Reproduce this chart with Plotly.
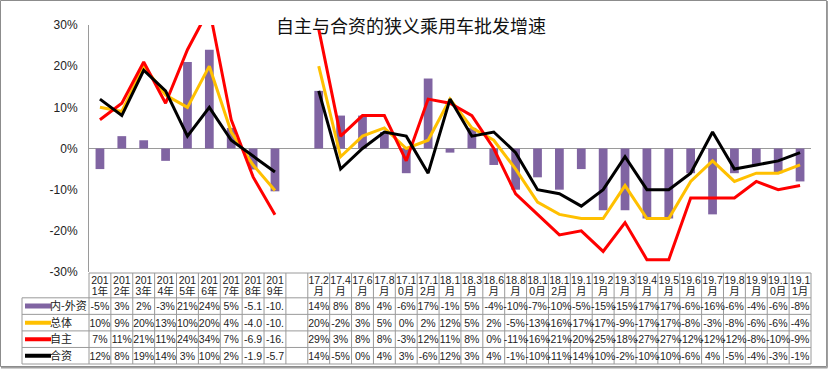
import plotly.graph_objects as go

# ---------------- data ----------------
categories = ["2011年", "2012年", "2013年", "2014年", "2015年", "2016年", "2017年", "2018年", "2019年", "",
              "17.2月", "17.4月", "17.6月", "17.8月", "17.10月", "17.12月", "18.1月", "18.3月", "18.6月",
              "18.8月", "18.10月", "18.12月", "19.1月", "19.2月", "19.3月", "19.4月", "19.5月", "19.6月",
              "19.7月", "19.8月", "19.9月", "19.10月", "19.11月"]

diff_name = "内-外资"
total_name = "总体"
domestic_name = "自主"
jv_name = "合资"

diff_vals = [-5, 3, 2, -3, 21, 24, 5, -5.1, -10.4, None,
             14, 8, 8, 4, -6, 17, -1, 5, -4, -10, -7,
             -10, -5, -15, -15, -17, -17, -6, -16, -6, -4, -6, -8]
total_vals = [10, 9, 20, 13, 10, 20, 4, -4.0, -10.2, None,
              20, -2, 3, 5, 0, 2, 12, 5, 2, -5, -13,
              -16, -17, -17, -9, -17, -17, -8, -3, -8, -6, -6, -4]
domestic_vals = [7, 11, 21, 11, 24, 34, 7, -6.9, -16.1, None,
                 29, 3, 8, 8, -3, 12, 11, 8, 0, -11, -16,
                 -21, -20, -25, -18, -27, -27, -12, -12, -12, -8, -10, -9]
jv_vals = [12, 8, 19, 14, 3, 10, 2, -1.9, -5.7, None,
           14, -5, 0, 4, 3, -6, 12, 3, 4, -1, -10,
           -11, -14, -10, -2, -10, -10, -6, 4, -5, -4, -3, -1]

decimal_cols = ["2018年", "2019年"]
y_ticks = [-30, -20, -10, 0, 10, 20, 30]
title_text = "自主与合资的狭义乘用车批发增速"

# ---------------- styles ----------------
C_DIFF = "#8064A2"
C_TOTAL = "#FFC000"
C_DOM = "#FF0000"
C_JV = "#000000"
GRID = "#9A9A9A"
TXT = "#222222"
NUM_FONT = "Liberation Sans, Arial, Noto Sans CJK SC"
CJK_FONT = "Noto Sans CJK SC, Liberation Sans"

W_PX, H_PX = 828, 369
PL, PR, PT, PB = 89, 811, 25, 272          # chart plot area (pixels)
TT, TB = 273, 364                            # table top / bottom (pixels)
LEG_W_PX = 67                                # legend column width (pixels)
TEXT_DY_PX = 1.5                             # visual centring nudge for table text

n = len(categories)
xs = list(range(n))
ppu = (PR - PL) / n                          # pixels per category

fig = go.Figure()
fig.add_trace(go.Bar(x=xs, y=diff_vals, name=diff_name, marker=dict(color=C_DIFF, line=dict(width=0)),
                     width=0.4, hoverinfo="skip"))
fig.add_trace(go.Scatter(x=xs, y=total_vals, name=total_name, mode="lines",
                         line=dict(color=C_TOTAL, width=3), connectgaps=False))
fig.add_trace(go.Scatter(x=xs, y=domestic_vals, name=domestic_name, mode="lines",
                         line=dict(color=C_DOM, width=3), connectgaps=False))
fig.add_trace(go.Scatter(x=xs, y=jv_vals, name=jv_name, mode="lines",
                         line=dict(color=C_JV, width=3), connectgaps=False))

# ---------------- data table on its own axes (x: category index, y: row index) ----------------
HDR = 1.5                                    # header height in row units
n_rows = 4
y_bottom = HDR + n_rows
ypu = (TB - TT) / y_bottom                   # pixels per row unit
leg_w = LEG_W_PX / ppu
XL = -0.5 - leg_w
pad = 0.12
tdy = TEXT_DY_PX / ypu

x2_range = [XL - pad, n - 0.5 + pad]
x2_dom = [(PL + (x2_range[0] + 0.5) * ppu) / W_PX, (PL + (x2_range[1] + 0.5) * ppu) / W_PX]
y2_range = [y_bottom + pad, -pad]
y2_dom = [(H_PX - (TB + pad * ypu)) / H_PX, (H_PX - (TT - pad * ypu)) / H_PX]

gx, gy = [], []
gx += [-0.5, n - 0.5, None]
gy += [0, 0, None]
for r in range(n_rows + 1):
    yy = HDR + r
    gx += [XL, n - 0.5, None]
    gy += [yy, yy, None]
for k in range(n + 1):
    gx += [k - 0.5, k - 0.5, None]
    gy += [0, y_bottom, None]
gx += [XL, XL, None]
gy += [HDR, y_bottom, None]
fig.add_trace(go.Scatter(x=gx, y=gy, mode="lines", line=dict(color=GRID, width=1),
                         xaxis="x2", yaxis="y2", hoverinfo="skip", showlegend=False))


def wrap(c):
    if not c:
        return "", ""
    k = 3 if c.endswith("年") else 4
    return c[:k], c[k:]


top_lbl = [wrap(c)[0] for c in categories]
bot_lbl = [wrap(c)[1] for c in categories]
hdr_font = dict(family=NUM_FONT, size=10.5, color=TXT)
fig.add_trace(go.Scatter(x=xs, y=[(281.5 - TT) / ypu] * n, text=top_lbl, mode="text",
                         textposition="middle center", textfont=hdr_font,
                         xaxis="x2", yaxis="y2", hoverinfo="skip", showlegend=False))
fig.add_trace(go.Scatter(x=xs, y=[(292.5 - TT) / ypu] * n, text=bot_lbl, mode="text",
                         textposition="middle center", textfont=hdr_font,
                         xaxis="x2", yaxis="y2", hoverinfo="skip", showlegend=False))


def fmt(v, c):
    if v is None:
        return ""
    if c in decimal_cols:
        return f"{v:.1f}"[:4]
    return f"{v:.0f}%"


rows = [(diff_name, diff_vals, C_DIFF, 5), (total_name, total_vals, C_TOTAL, 4),
        (domestic_name, domestic_vals, C_DOM, 4), (jv_name, jv_vals, C_JV, 4)]
for r, (name, vals, col, lw) in enumerate(rows):
    yc = HDR + r + 0.5
    fig.add_trace(go.Scatter(x=[XL + 3 / ppu, XL + 29 / ppu], y=[yc, yc], mode="lines",
                             line=dict(color=col, width=lw), xaxis="x2", yaxis="y2",
                             hoverinfo="skip", showlegend=False))
    fig.add_trace(go.Scatter(x=[XL + 28 / ppu], y=[yc + tdy], text=[name], mode="text",
                             textposition="middle right",
                             textfont=dict(family=CJK_FONT, size=11, color=TXT),
                             xaxis="x2", yaxis="y2", hoverinfo="skip", showlegend=False))
    fig.add_trace(go.Scatter(x=xs, y=[yc + tdy] * n, text=[fmt(v, c) for v, c in zip(vals, categories)],
                             mode="text", textposition="middle center",
                             textfont=dict(family=NUM_FONT, size=10.5, color=TXT),
                             xaxis="x2", yaxis="y2", hoverinfo="skip", showlegend=False))

# outer frame
frame = dict(xref="paper", yref="paper", layer="above")
fig.add_shape(type="rect", x0=0.5 / W_PX, x1=826.5 / W_PX, y0=2.5 / H_PX, y1=1 - 0.5 / H_PX,
              line=dict(color="#8C8C8C", width=1), **frame)
fig.add_shape(type="line", x0=827.3 / W_PX, x1=827.3 / W_PX, y0=1.5 / H_PX, y1=1 - 1 / H_PX,
              line=dict(color="#A0A0A0", width=1.5), **frame)
fig.add_shape(type="line", x0=1 / W_PX, x1=827.5 / W_PX, y0=1.3 / H_PX, y1=1.3 / H_PX,
              line=dict(color="#A0A0A0", width=1.5), **frame)

fig.update_layout(
    template="none",
    width=W_PX, height=H_PX,
    margin=dict(l=0, r=0, t=0, b=0, pad=0, autoexpand=False),
    paper_bgcolor="white", plot_bgcolor="rgba(0,0,0,0)",
    showlegend=False, barmode="overlay",
    title=dict(text=title_text, x=411 / W_PX, xref="container", xanchor="center",
               y=1 - 27 / H_PX, yref="container", yanchor="middle", automargin=False,
               font=dict(family=CJK_FONT, size=18, color="#111")),
    xaxis=dict(domain=[PL / W_PX, PR / W_PX], range=[-0.5, n - 0.5], visible=False,
               fixedrange=True, automargin=False),
    yaxis=dict(domain=[(H_PX - PB) / H_PX, (H_PX - PT) / H_PX],
               range=[-30, 30], tickvals=y_ticks, ticktext=[f"{v}%" for v in y_ticks],
               showgrid=False, showline=True, linecolor=GRID, linewidth=1,
               zeroline=True, zerolinecolor=GRID, zerolinewidth=1,
               ticks="", ticklabelstandoff=8, fixedrange=True, automargin=False,
               tickfont=dict(family=NUM_FONT, size=12, color=TXT)),
    xaxis2=dict(domain=x2_dom, range=x2_range, visible=False, fixedrange=True, anchor="y2",
                automargin=False),
    yaxis2=dict(domain=y2_dom, range=y2_range, visible=False, fixedrange=True, anchor="x2",
                automargin=False),
)

fig.write_html("out.html", config={"displayModeBar": False},
               post_script="document.body.style.margin='0';document.body.style.overflow='hidden';")
